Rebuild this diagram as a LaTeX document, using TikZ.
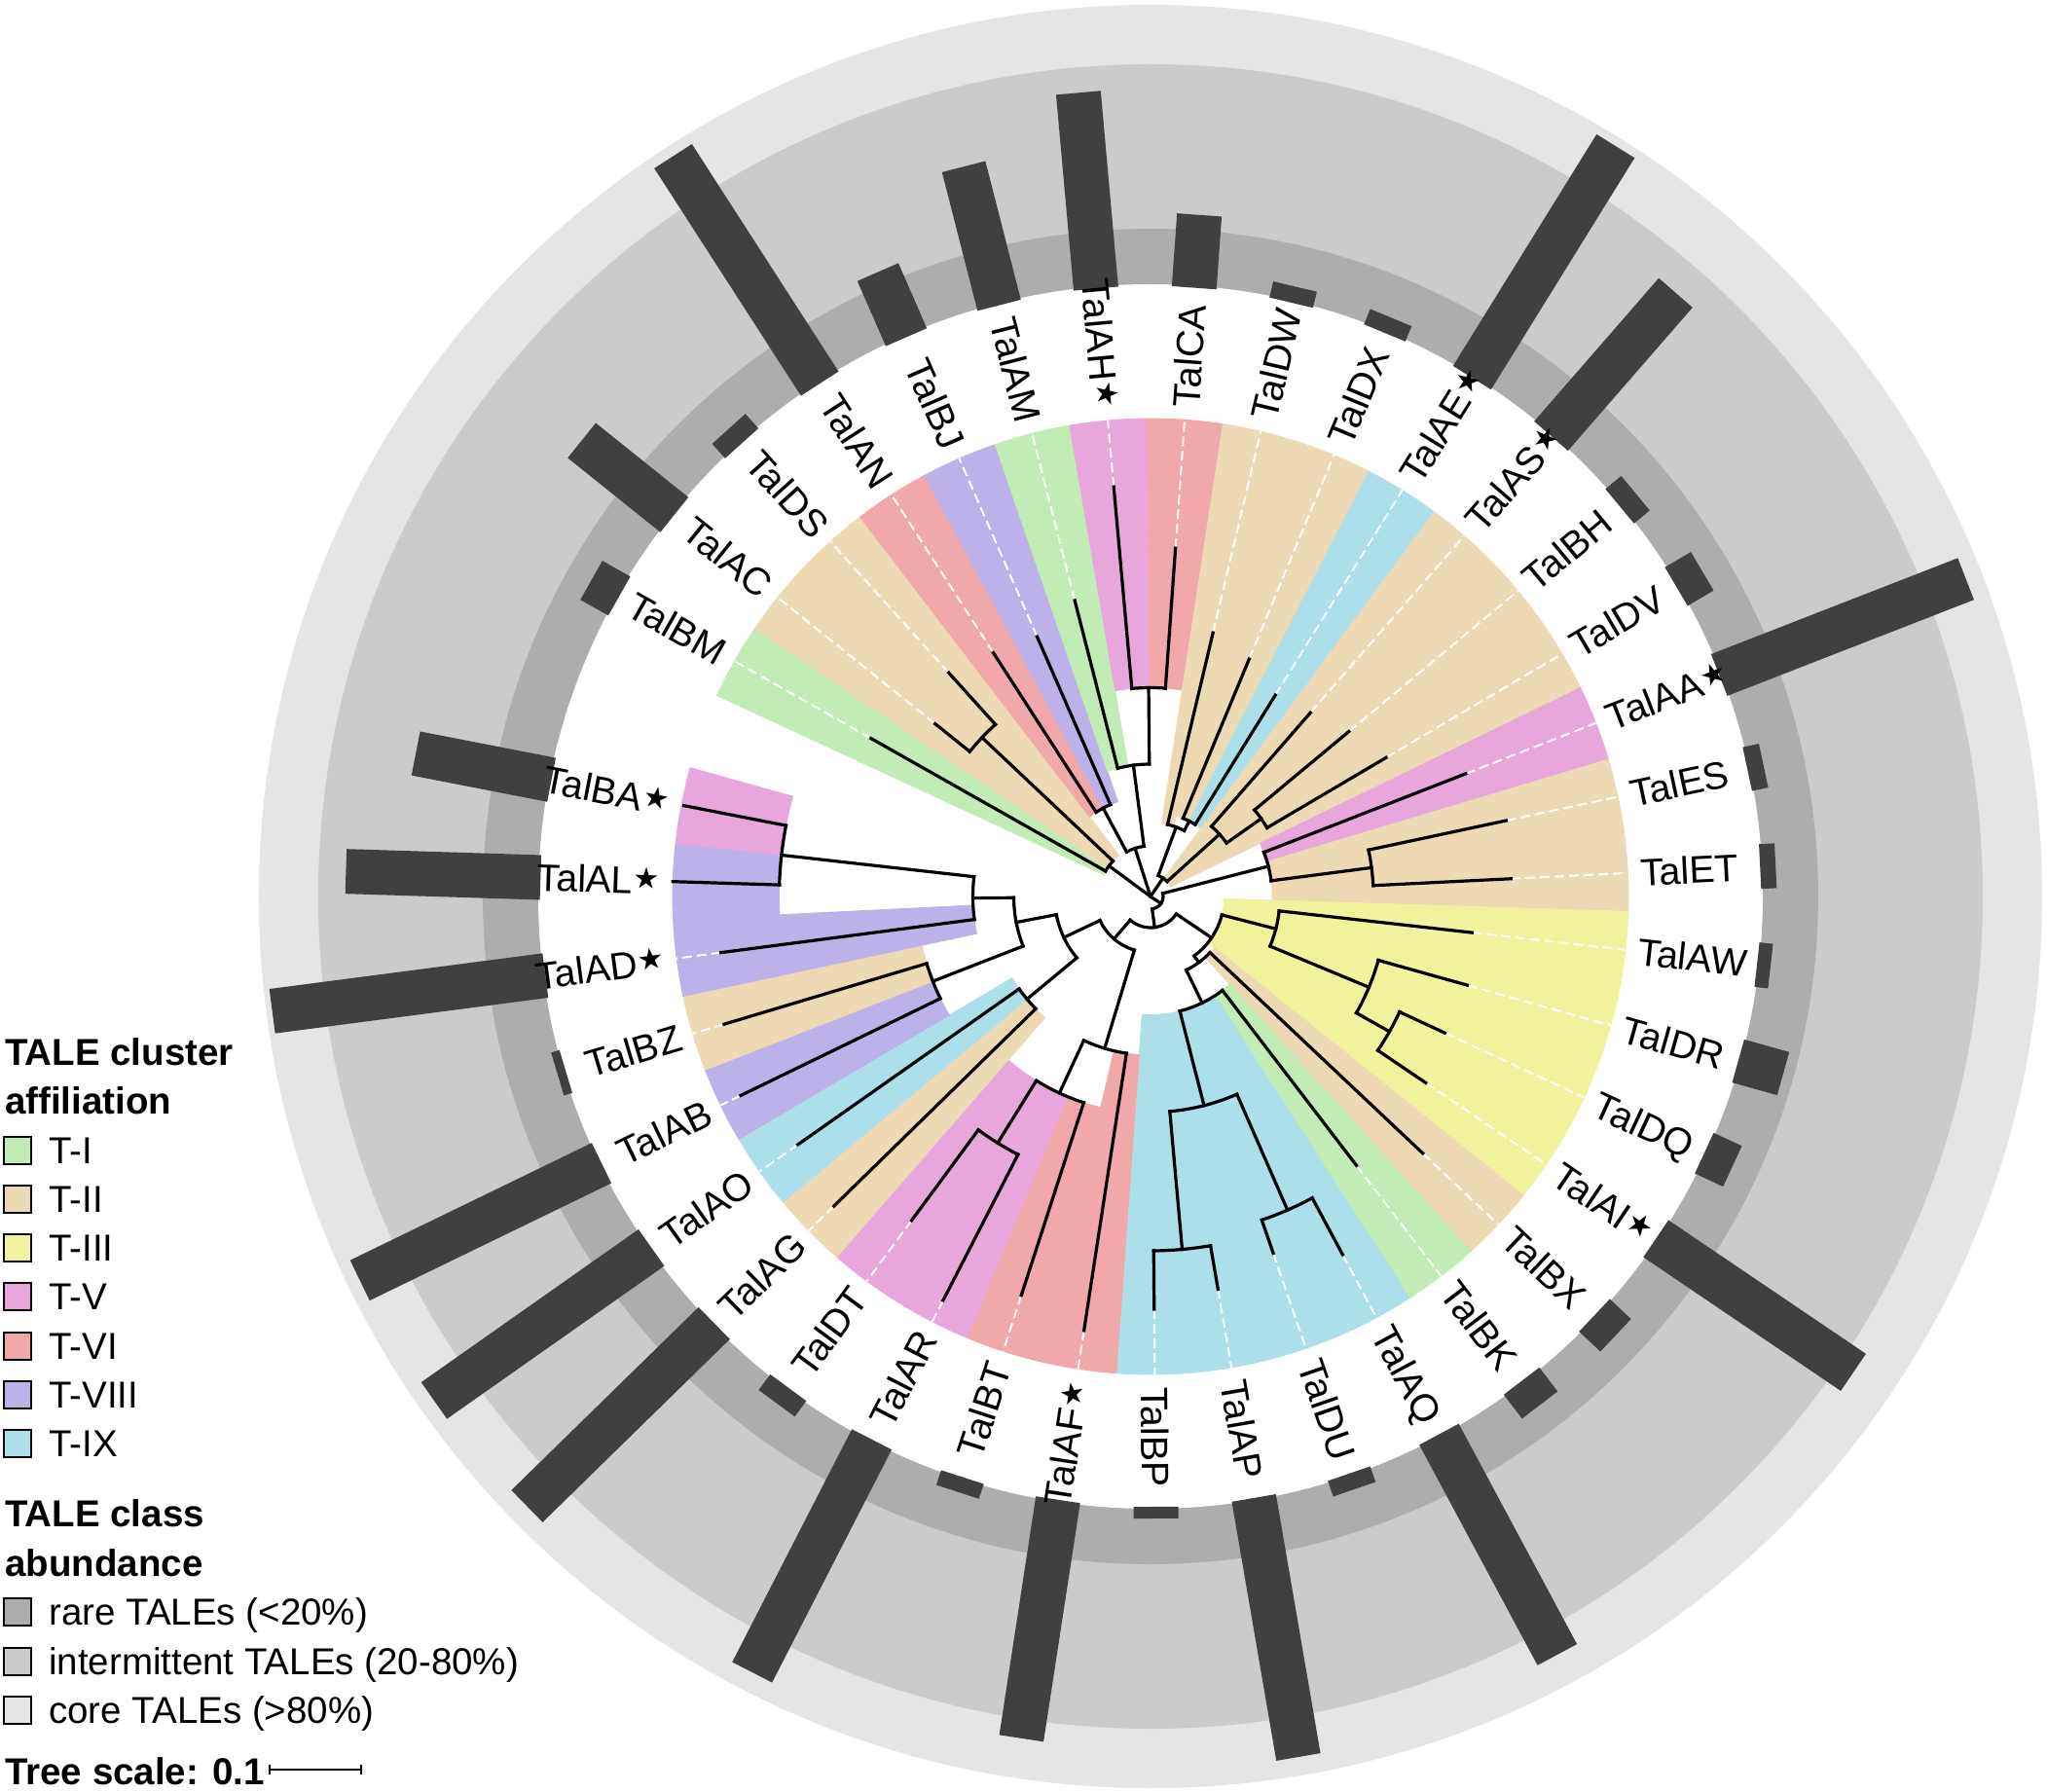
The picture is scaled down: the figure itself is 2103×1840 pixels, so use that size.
\documentclass[tikz,border=0pt]{standalone}
\usepackage{fontspec}
\setmainfont{Liberation Sans}
\newfontfamily\symfont{DejaVu Sans}
\definecolor{cI}{HTML}{C2ECB5}
\definecolor{cII}{HTML}{EDD9B4}
\definecolor{cIII}{HTML}{F0F29C}
\definecolor{cV}{HTML}{E7A7DD}
\definecolor{cVI}{HTML}{F0A8A8}
\definecolor{cVIII}{HTML}{BDB1EA}
\definecolor{cIX}{HTML}{ACDFE9}
\definecolor{rare}{HTML}{ADADAD}
\definecolor{inter}{HTML}{CBCBCB}
\definecolor{core}{HTML}{E5E5E5}
\definecolor{barc}{HTML}{404040}
\newcommand\stargl{\hspace{1pt}{\symfont\fontsize{30pt}{30pt}\selectfont\raisebox{6pt}{★}}}
% angle / range start / colour / leaf tip / bar end / label / star
\def\leaflist{85.90/214.5/cVI/358.7/702/TalCA/0,
76.67/76/cII/278.4/644/TalDW/0,
67.44/87/cII/264.1/644/TalDX/0,
58.21/87/cIX/243.4/907/TalAE/1,
48.98/23/cII/250.3/822/TalAS/1,
39.75/23/cII/265/648/TalBH/0,
30.52/23/cII/281/658/TalDV/0,
21.28/125/cV/347.4/899/TalAA/1,
12.05/125/cII/373.6/644/TalES/0,
2.82/125/cII/370.7/643/TalET/0,
-6.41/75.7/cIII/332.4/641/TalAW/0,
-15.64/75.7/cIII/337.9/675/TalDR/0,
-24.87/75.7/cIII/333.2/659/TalDQ/0,
-34.10/75.7/cIII/341.3/872/TalAI/1,
-43.33/84/cII/384.6/657/TalBX/0,
-52.56/121.5/cI/348/658/TalBK/0,
-61.79/121.5/cIX/417.5/884/TalAQ/0,
-71.02/121.5/cIX/387.6/644/TalDU/0,
-80.25/121.5/cIX/409.5/897/TalAP/0,
-89.49/121.5/cIX/424/639/TalBP/0,
-98.72/163/cVI/451.1/875/TalAF/1,
-107.95/222.6/cVI/430.6/643/TalBT/0,
-117.18/222.6/cV/466.4/896/TalAR/0,
-126.41/222.6/cV/413.6/647/TalDT/0,
-135.64/165/cII/455/896/TalAG/0,
-144.87/165/cIX/443/900/TalAO/0,
-154.10/240/cVIII/468/903/TalAB/0,
-163.33/240/cII/457.3/636/TalBZ/0,
-172.56/182.5/cVIII/445.1/910/TalAD/1,
-181.79/381.5/cVIII/491/827/TalAL/1,
-191.02/381.5/cV/488.6/769/TalBA/1,
150.51/53/cI/330/660/TalBM/0,
141.28/53/cII/283.6/749/TalAC/0,
132.05/53/cII/309.5/647/TalDS/0,
122.82/103/cVI/298/905/TalAN/0,
113.59/103/cVIII/291.2/700/TalBJ/0,
104.36/136/cI/313.9/774/TalAM/0,
95.13/214.5/cV/422.6/829/TalAH/1}
\begin{document}
\begin{tikzpicture}[x=1pt,y=1pt,
  br/.style={line width=3.2pt, line cap=rect, black},
  dsh/.style={white, line width=2pt, dash pattern=on 10pt off 5pt},
  lab/.style={font=\fontsize{39.3pt}{46pt}\selectfont, inner sep=0pt, text height=28pt, text depth=0pt},
  leg/.style={font=\fontsize{38.5pt}{46pt}\selectfont, inner sep=0pt},
  lbox/.style={draw=black, line width=2pt}]
\useasboundingbox (-1182,-919) rectangle (921,921);
\fill[white] (-1182,-919) rectangle (921,921);
% abundance rings
\fill[core] (0,0) circle[radius=916];
\fill[inter] (0,0) circle[radius=855];
\fill[rare] (0,0) circle[radius=686];
\fill[white] (0,0) circle[radius=629];
% bars
\foreach \a/\rin/\col/\tip/\bout/\nm/\st in \leaflist {
  \fill[barc, rotate=\a] (627,-23) rectangle (\bout,23);
}
% cluster ranges
\foreach \a/\rin/\col/\tip/\bout/\nm/\st in \leaflist {
  \fill[\col, draw=\col, line width=0.8pt] ({\a-4.615}:\rin) arc[start angle={\a-4.615}, end angle={\a+4.615}, radius=\rin]
    -- ({\a+4.615}:491) arc[start angle={\a+4.615}, end angle={\a-4.615}, radius=491] -- cycle;
}
% dashed leaf extensions
\foreach \a/\rin/\col/\tip/\bout/\nm/\st in \leaflist {
  \draw[dsh] (\a:\tip) -- (\a:491);
}
% tree: radial branches
\foreach \a/\p/\q in {143.59/0/53, 107.82/0/52, 55.9/0/23, -34.03/0/13,
150.51/53/330, 136.67/53/238, 141.28/238/283.6, 132.05/238/309.5,
118.2/52/103, 97.44/52/136, 122.82/103/298, 113.59/103/291.2,
104.36/136/313.9, 90.52/136/214.5, 95.13/214.5/422.6, 85.9/214.5/358.7,
69.75/23/76, 42.06/23/95.5, 76.67/76/278.4, 62.83/76/87,
67.44/87/264.1, 58.21/87/243.4, 48.98/95.5/250.3, 35.13/95.5/139,
39.75/139/265, 30.52/139/281, 14.36/13/125, -82.42/13/32,
21.28/125/347.4, 7.43/125/229, 12.05/229/373.6, 2.82/229/370.7,
-34.1/32/75.7, -130.74/32/57.5, -14.49/75.7/133, -53.72/75.7/84,
-6.41/133/332.4, -22.56/133/243, -15.64/243/337.9, -29.49/243/282,
-24.87/282/333.2, -34.1/282/341.3, -43.33/84/384.6, -64.1/84/121.5,
-52.56/121.5/348, -75.64/121.5/221.7, -66.4/221.7/351.5, -84.87/221.7/364,
-61.79/351.5/417.5, -71.02/351.5/387.6, -80.25/364/409.5, -89.49/364/424,
-106.8/57.5/163, -154.68/57.5/98.5, -98.72/163/451.1, -114.87/163/222.6,
-107.95/222.6/430.6, -121.8/222.6/298, -117.18/298/466.4, -126.41/298/413.6,
-140.26/98.5/165, -169.1/98.5/140.5, -135.64/165/455, -144.87/165/443,
-158.72/140.5/240, -179.48/140.5/182.5, -154.1/240/468, -163.33/240/457.3,
-172.56/182.5/445.1, -186.4/182.5/381.5, -181.79/381.5/491, -191.02/381.5/488.6} {
  \draw[br] (\a:\p) -- (\a:\q);
}
% tree: node arcs
\foreach \r/\s/\e in {53/150.51/136.67, 238/141.28/132.05, 52/118.2/97.44,
103/122.82/113.59, 136/104.36/90.52, 214.5/95.13/85.9, 23/69.75/42.06,
76/76.67/62.83, 87/67.44/58.21, 95.5/48.98/35.13, 139/39.75/30.52,
13/14.36/-82.42, 125/21.28/7.43, 229/12.05/2.82, 32/-34.1/-130.74,
75.7/-14.49/-53.72, 133/-6.41/-22.56, 243/-15.64/-29.49, 282/-24.87/-34.1,
84/-43.33/-64.1, 121.5/-52.56/-75.64, 221.7/-66.4/-84.87, 351.5/-61.79/-71.02,
364/-80.25/-89.49, 57.5/-106.8/-154.68, 163/-98.72/-114.87, 222.6/-107.95/-121.8,
298/-117.18/-126.41, 98.5/-140.26/-169.1, 165/-135.64/-144.87, 140.5/-158.72/-179.48,
240/-154.1/-163.33, 182.5/-172.56/-186.4, 381.5/-181.79/-191.02} {
  \draw[br] (\s:\r) arc[start angle=\s, end angle=\e, radius=\r];
}
% leaf labels
\foreach \a/\rin/\col/\tip/\bout/\nm/\st in \leaflist {
  \pgfmathsetmacro\cs{cos(\a)}
  \ifdim\cs pt<0pt
    \node[lab, anchor=east, rotate={\a+180}] (\nm) at (\a:504) {\nm\ifnum\st=1 \stargl\fi};
  \else
    \node[lab, anchor=west, rotate=\a] (\nm) at (\a:504) {\nm\ifnum\st=1 \stargl\fi};
  \fi
}
% legend
\node[leg, anchor=base west] (legA) at (-1177,-173) {\bfseries TALE cluster};
\node[leg, anchor=base west] (legB) at (-1177,-223) {\bfseries affiliation};
\foreach \y/\c/\t [count=\k] in {-261/cI/T-I, -311/cII/T-II, -361/cIII/T-III, -411/cV/T-V, -462/cVI/T-VI, -512/cVIII/T-VIII, -562/cIX/T-IX} {
  \draw[lbox, fill=\c] (-1178,\y-14) rectangle (-1150,\y+14);
  \node[leg, anchor=base west] (lc\k) at (-1132,\y-13.8) {\t};
}
\node[leg, anchor=base west] (legC) at (-1177,-647) {\bfseries TALE class};
\node[leg, anchor=base west] (legD) at (-1177,-698) {\bfseries abundance};
\foreach \y/\c/\t [count=\k] in {-735/rare/{rare TALEs (<20\%)}, -786/inter/{intermittent TALEs (20-80\%)}, -836/core/{core TALEs (>80\%)}} {
  \draw[lbox, fill=\c] (-1178,\y-14) rectangle (-1150,\y+14);
  \node[leg, anchor=base west] (la\k) at (-1132,\y-13.8) {\t};
}
\node[leg, anchor=base west] (legE) at (-1177,-912) {\bfseries Tree scale: 0.1};
\coordinate (sbL) at (-905,-897);
\coordinate (sbR) at (-811,-897);
\draw[line width=2pt] (sbL) -- (sbR);
\draw[line width=2pt] ([yshift=-5pt]sbL) -- ([yshift=5pt]sbL);
\draw[line width=2pt] ([yshift=-5pt]sbR) -- ([yshift=5pt]sbR);
\end{tikzpicture}
\end{document}
